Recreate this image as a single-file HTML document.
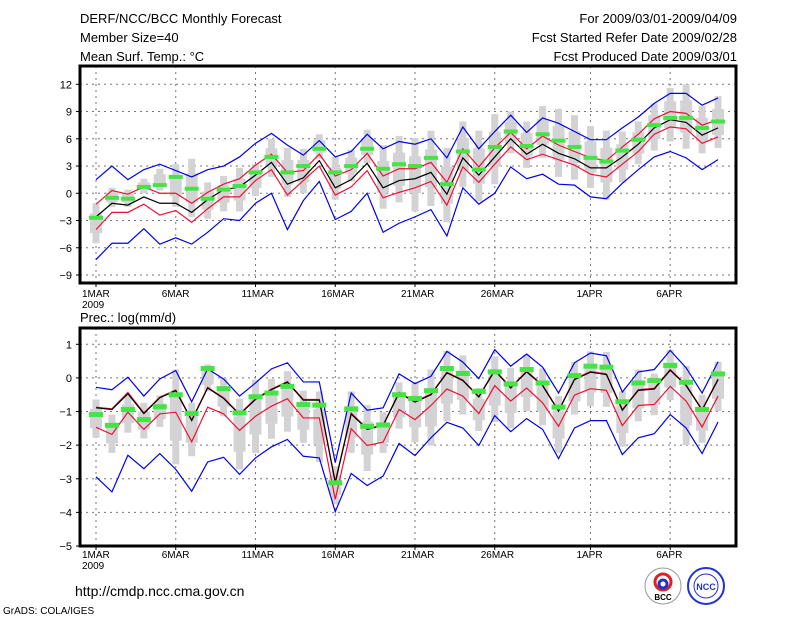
<!DOCTYPE html>
<html><head><meta charset="utf-8"><style>
body{margin:0;background:#fff;}
svg text{font-family:"Liberation Sans",sans-serif;fill:#000;}
</style></head><body>
<svg id="c" width="800" height="618" xmlns="http://www.w3.org/2000/svg">
<text x="80" y="23" font-size="13">DERF/NCC/BCC Monthly Forecast</text>
<text x="80" y="42" font-size="13">Member Size=40</text>
<text x="80" y="61" font-size="13">Mean Surf. Temp.: °C</text>
<text x="737" y="23" font-size="13" text-anchor="end">For 2009/03/01-2009/04/09</text>
<text x="737" y="42" font-size="13" text-anchor="end">Fcst Started Refer Date 2009/02/28</text>
<text x="737" y="61" font-size="13" text-anchor="end">Fcst Produced Date 2009/03/01</text>
<text x="80" y="322" font-size="13">Prec.: log(mm/d)</text>
<text x="75" y="596" font-size="14">http://cmdp.ncc.cma.gov.cn</text>
<text x="3" y="614" font-size="10">GrADS: COLA/IGES</text>
<g>
<circle cx="663" cy="586" r="18" fill="#fff" stroke="#999"/>
<circle cx="663" cy="582" r="8" fill="none" stroke="#d22" stroke-width="3"/>
<circle cx="663" cy="584" r="4" fill="none" stroke="#23c" stroke-width="3"/>
<text x="663" y="600" font-size="8" text-anchor="middle" font-weight="bold">BCC</text>
</g>
<g>
<circle cx="706" cy="586" r="18" fill="#fff" stroke="#23c" stroke-width="2"/>
<circle cx="706" cy="586" r="12" fill="none" stroke="#23c"/>
<text x="706" y="590" font-size="9" text-anchor="middle" fill="#23c" font-weight="bold" style="fill:#23c">NCC</text>
</g>
</svg>
<script>
// ---- data ----
const dayLabels = ["1MAR","6MAR","11MAR","16MAR","21MAR","26MAR","1APR","6APR"];
const dayLabelIdx = [0,5,10,15,20,25,31,36];
const tTicks = [12,9,6,3,0,-3,-6,-9];
const pTicks = [1,0,-1,-2,-3,-4,-5];
const tBlue1 = [1.5,3.0,1.5,2.6,3.2,2.5,1.8,2.6,3.0,4.0,5.5,6.6,5.3,4.2,5.8,4.0,4.6,6.5,4.9,5.7,5.4,6.0,3.9,7.3,4.9,6.8,8.6,6.7,8.3,7.7,6.8,5.9,5.9,7.2,8.4,9.9,11.0,11.0,9.7,10.5];
const tRed1 = [-1.2,0.3,-0.1,0.7,0.0,0.0,-1.1,0.1,1.0,1.6,3.1,4.3,2.3,2.5,4.3,1.9,2.6,4.4,1.9,2.7,2.7,3.4,1.2,4.9,2.9,5.0,6.7,4.9,6.3,5.3,4.6,3.9,3.6,5.1,6.5,8.2,9.0,8.8,7.5,8.1];
const tMean = [-2.6,-1.1,-1.3,-0.4,-1.1,-1.1,-2.1,-0.7,0.4,0.7,2.0,3.4,1.0,1.7,3.6,0.6,1.5,3.3,0.6,1.4,1.6,2.3,-0.1,3.9,2.0,4.0,6.0,4.3,5.4,4.4,3.8,2.8,2.8,4.0,5.4,7.2,8.1,7.8,6.4,7.2];
const tRed2 = [-4.0,-2.1,-2.1,-1.2,-2.4,-1.9,-3.2,-1.7,-0.4,-0.4,1.4,2.6,-0.2,1.4,3.0,-0.2,0.7,2.5,-0.5,0.1,0.6,1.3,-1.3,2.9,1.2,3.2,5.1,3.7,4.3,3.7,3.1,2.1,1.8,3.2,4.6,6.5,7.3,7.1,5.5,6.2];
const tBlue2 = [-7.3,-5.5,-5.5,-3.9,-5.6,-4.9,-5.6,-4.3,-2.8,-3.0,-1.1,0.0,-4.0,-0.8,1.3,-2.9,-2.0,0.0,-4.3,-3.3,-2.6,-1.8,-4.7,0.6,-1.2,0.0,2.9,1.6,2.1,1.0,0.9,-0.4,-0.6,1.1,2.6,4.0,4.6,3.9,2.6,3.7];
const tObs = [-2.7,-0.5,-0.6,0.7,0.9,1.8,0.5,-0.6,0.4,0.8,2.3,4.0,2.3,3.0,4.9,2.3,3.0,4.9,2.7,3.2,3.0,3.9,1.0,4.6,2.6,5.1,6.8,5.2,6.5,5.8,5.1,3.9,3.5,4.7,5.9,7.5,8.3,8.3,7.2,7.9];
const tMax = [-1.1,0.6,0.4,1.6,2.7,3.2,3.8,1.2,1.9,2.8,3.2,6.0,5.0,4.9,6.5,4.0,4.8,7.0,5.3,6.3,6.1,6.9,5.0,7.9,6.9,8.7,9.0,7.9,9.6,9.3,8.6,7.4,6.9,6.8,7.9,9.9,11.6,12.0,9.6,10.7];
const tMin = [-5.5,-1.5,-1.5,0.0,0.3,-1.5,-2.6,-2.8,-2.0,-2.0,-0.3,1.8,-0.4,0.0,3.8,-0.7,1.3,3.3,-1.7,-1.0,-2.0,-1.4,-3.2,0.7,-0.9,1.0,4.4,2.8,3.9,1.8,1.5,0.6,-0.7,1.2,3.2,4.7,5.7,4.9,4.4,5.0];
const pBlue1 = [-0.28,-0.35,0.02,-0.54,-0.03,0.22,-0.71,0.27,-0.03,-0.54,-0.15,0.27,0.45,-0.12,-0.12,-2.52,-0.45,-0.96,-0.89,0.12,-0.17,0.05,0.79,0.47,-0.02,0.84,0.35,0.71,0.32,-0.45,0.45,0.74,0.66,-0.42,0.18,0.25,0.82,0.30,-0.45,0.48];
const pRed1 = [-0.87,-0.92,-0.43,-1.04,-0.57,-0.36,-1.25,-0.28,-0.59,-1.07,-0.62,-0.33,-0.11,-0.64,-0.64,-3.08,-1.05,-1.51,-1.40,-0.43,-0.70,-0.48,0.17,-0.06,-0.55,0.24,-0.28,0.20,-0.21,-0.97,-0.03,0.19,0.12,-0.94,-0.35,-0.31,0.25,-0.21,-0.94,-0.03];
const pMean = [-0.89,-0.94,-0.47,-1.06,-0.59,-0.38,-1.27,-0.30,-0.61,-1.09,-0.64,-0.35,-0.13,-0.66,-0.66,-3.12,-1.07,-1.53,-1.42,-0.45,-0.72,-0.50,0.15,-0.08,-0.57,0.22,-0.30,0.18,-0.23,-0.99,-0.05,0.17,0.10,-0.96,-0.37,-0.33,0.23,-0.23,-0.96,-0.05];
const pRed2 = [-1.47,-1.68,-1.02,-1.53,-1.07,-1.02,-1.90,-0.87,-1.07,-1.56,-1.14,-0.84,-0.62,-1.19,-1.19,-3.61,-1.51,-2.01,-1.91,-0.94,-1.24,-0.82,-0.33,-0.54,-1.06,-0.23,-0.69,-0.30,-0.74,-1.44,-0.51,-0.32,-0.37,-1.42,-0.82,-0.79,-0.25,-0.69,-1.46,-0.54];
const pBlue2 = [-2.94,-3.39,-2.30,-2.70,-2.25,-2.72,-3.37,-2.50,-2.36,-2.87,-2.38,-2.05,-1.83,-2.33,-2.38,-3.98,-2.84,-3.20,-2.92,-1.95,-2.31,-1.78,-1.32,-1.49,-2.01,-1.12,-1.60,-1.21,-1.53,-2.40,-1.49,-1.27,-1.27,-2.28,-1.78,-1.66,-1.09,-1.49,-2.25,-1.31];
const pObs = [-1.09,-1.41,-0.94,-1.24,-0.86,-0.50,-1.06,0.28,-0.32,-1.04,-0.56,-0.45,-0.25,-0.79,-0.81,-3.12,-0.92,-1.44,-1.40,-0.50,-0.61,-0.38,0.28,0.13,-0.40,0.18,-0.18,0.25,-0.15,-0.87,0.07,0.35,0.32,-0.71,-0.15,-0.08,0.37,-0.13,-0.94,0.12];
const pMax = [-0.64,-1.09,-0.50,-0.74,-0.52,0.25,-0.74,0.40,0.00,-0.62,-0.05,-0.03,0.20,-0.38,-0.40,-2.62,-0.40,-0.81,-1.02,-0.13,-0.15,0.25,0.81,0.67,-0.30,0.64,0.30,0.69,0.28,-0.54,0.47,0.79,0.77,-0.40,0.25,0.13,0.84,0.35,-0.50,0.48];
const pMin = [-1.78,-2.23,-1.63,-1.80,-1.46,-2.57,-2.33,-0.40,-1.14,-2.72,-2.23,-1.81,-1.60,-1.93,-2.50,-3.76,-2.23,-2.77,-2.23,-1.51,-1.91,-2.01,-1.29,-1.09,-1.58,-1.31,-1.49,-0.99,-1.41,-2.23,-1.09,-0.84,-0.86,-2.05,-1.29,-1.11,-0.66,-2.00,-1.93,-0.99];

const svg=document.getElementById('c');
const NS="http://www.w3.org/2000/svg";
function mk(tag,attrs,parent){const e=document.createElementNS(NS,tag);for(const k in attrs)e.setAttribute(k,attrs[k]);(parent||svg).appendChild(e);return e;}
const X0=80,X1=736;
function xd(i){return 96+15.95*i;}

function panel(name,top,bot,vmax,vmin,ticks,series,obs,mx,mn,labelY,obsH){
  const yv=v=>top+(vmax-v)*(bot-top)/(vmax-vmin);
  const g=mk('g',{});
  
  
  // grid
  ticks.forEach(t=>{const l=mk('line',{x1:X0,x2:X1,y1:yv(t),y2:yv(t),stroke:'#777','stroke-dasharray':'2,4'},g);
    
    const tk=mk('line',{x1:X0-4,x2:X0,y1:yv(t),y2:yv(t),stroke:'#000'},g);
    const tx=mk('text',{x:X0-8,y:yv(t)+4,'font-size':11,'text-anchor':'end'},g);tx.textContent=(t<0?'\u2212'+(-t):t);
    });
  dayLabelIdx.forEach((d,k)=>{const x=xd(d);
    const l=mk('line',{x1:x,x2:x,y1:top,y2:bot,stroke:'#777','stroke-dasharray':'2,4'},g);
    
    mk('line',{x1:x,x2:x,y1:bot,y2:bot+4,stroke:'#000'},g);
    const tx=mk('text',{x:x-14,y:labelY,'font-size':10},g);tx.textContent=dayLabels[k];
    });
  const yr=mk('text',{x:xd(0)-14,y:labelY+11,'font-size':10},g);yr.textContent='2009';
  
  // gray spread
  mx.forEach((hi,i)=>{const lo=mn[i];const x=xd(i);
    const w=mk('rect',{x:x-3.5,y:yv(hi),width:7,height:yv(lo)-yv(hi),fill:'#d3d3d6'},g);
    
    const q1=lo+(hi-lo)*0.25,q3=lo+(hi-lo)*0.75;
    const b=mk('rect',{x:x-6,y:yv(q3),width:12,height:yv(q1)-yv(q3),fill:'#d3d3d6'},g);
    });
  // lines
  series.forEach(s=>{const p=mk('polyline',{points:s.d.map((v,i)=>xd(i)+','+yv(v)).join(' '),fill:'none',stroke:s.c,'stroke-width':1.2},g);
    });
  obs.forEach((v,i)=>{const r=mk('rect',{x:xd(i)-7,y:yv(v)-obsH/2,width:14,height:obsH,fill:'#44e444'},g);
    });
  const f=mk('rect',{x:X0,y:top,width:X1-X0,height:bot-top,fill:'none',stroke:'#000','stroke-width':3},g);
  
}
panel('temperature-panel',66,283,12+(84.3-66)/9.08,-9-(283-275)/9.08,tTicks,
 [{d:tBlue1,c:'#0000ee',n:'temp-upper-blue-line'},{d:tBlue2,c:'#0000ee',n:'temp-lower-blue-line'},
  {d:tRed1,c:'#ee1133',n:'temp-upper-red-line'},{d:tRed2,c:'#ee1133',n:'temp-lower-red-line'},
  {d:tMean,c:'#000',n:'temp-mean-line'}],tObs,tMax,tMin,297,4);
panel('precipitation-panel',328,546,1+(344.3-328)/33.6,-5,pTicks,
 [{d:pBlue1,c:'#0000ee',n:'prec-upper-blue-line'},{d:pBlue2,c:'#0000ee',n:'prec-lower-blue-line'},
  {d:pRed2,c:'#ee1133',n:'prec-lower-red-line'},{d:pRed1,c:'#ee1133',n:'prec-upper-red-line'},
  {d:pMean,c:'#000',n:'prec-mean-line'}],pObs,pMax,pMin,558,5);
</script>
</body></html>
